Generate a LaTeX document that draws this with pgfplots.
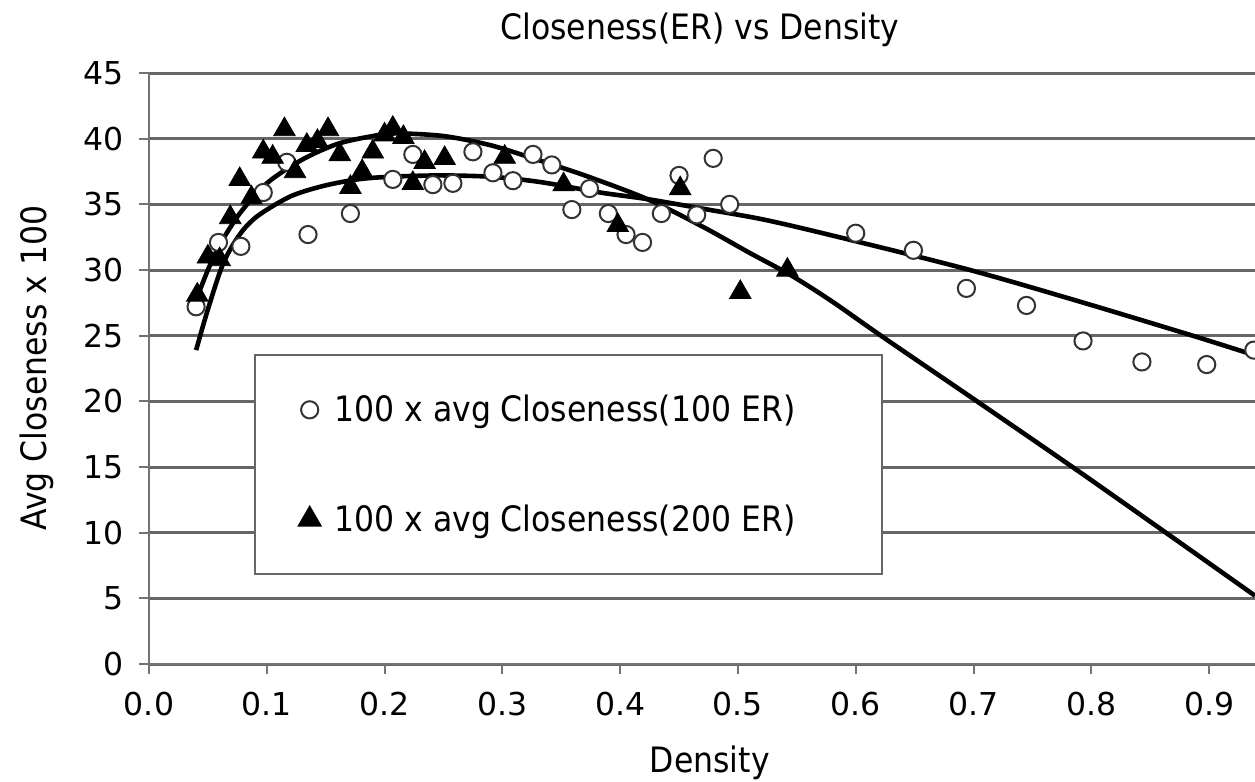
\documentclass[border=0pt]{standalone}
\usepackage{fontspec}
\setmainfont{DejaVu Sans Condensed}
\newfontfamily\tickfont{DejaVu Sans}
\usepackage{pgfplots}
\pgfplotsset{compat=1.18}
\pgfplotsset{dotlegend/.style={legend image code/.code={\draw[##1] plot coordinates {(0pt,0pt)};}}}

\newcommand{\labfont}{\fontsize{17.5}{21}\selectfont}

\begin{document}
\begin{tikzpicture}
\begin{axis}[
  at={(0,0)}, anchor=south west,
  scale only axis, width=553pt, height=295.5pt,
  xmin=0, xmax=0.939, ymin=0, ymax=45,
  axis x line*=bottom, axis y line*=left,
  axis line style={black!55, line width=1.3pt, -},
  xtick={0,0.1,0.2,0.3,0.4,0.5,0.6,0.7,0.8,0.9},
  ytick={0,5,10,15,20,25,30,35,40,45},
  tick style={black!55, line width=1pt},
  tick align=outside, major tick length=5pt,
  ymajorgrids, grid style={black!60, line width=1.5pt},
  /pgf/number format/assume math mode=true,
  ticklabel style={font=\tickfont\fontsize{15.75}{18}\selectfont},
  xticklabel style={yshift=-5.5pt, /pgf/number format/.cd, fixed, fixed zerofill, precision=1, /tikz/.cd},
  yticklabel style={xshift=-4pt},
  title={Closeness(ER) vs Density},
  title style={at={(0.498,1.052)}, anchor=center, font=\labfont},
  xlabel={Density},
  xlabel style={at={(0.507,-0.168)}, anchor=center, font=\labfont},
  ylabel={Avg Closeness x 100},
  ylabel style={at={(-0.1013,0.501)}, anchor=center, font=\labfont},
  legend style={at={(0.0949,0.5245)}, anchor=north west, draw=black!60,
    line width=1pt, fill=white, inner xsep=22pt, inner ysep=18pt,
    row sep=36pt, column sep=5pt, font=\labfont, cells={anchor=west}},
]
\addplot[only marks, mark=*, mark size=4.3pt,
  mark options={fill=white, draw=black!80, line width=1pt}, dotlegend]
coordinates {
(0.040,27.2) (0.059,32.1) (0.078,31.8) (0.097,35.9) (0.117,38.2) (0.135,32.7)
(0.171,34.3) (0.207,36.9) (0.224,38.8) (0.241,36.5) (0.258,36.6) (0.275,39.0)
(0.292,37.4) (0.309,36.8) (0.326,38.8) (0.342,38.0) (0.359,34.6) (0.374,36.2)
(0.390,34.3) (0.405,32.7) (0.419,32.1) (0.435,34.3) (0.450,37.2) (0.465,34.2)
(0.479,38.5) (0.493,35.0) (0.600,32.8) (0.649,31.5) (0.694,28.6) (0.745,27.3)
(0.793,24.6) (0.843,23.0) (0.898,22.8) (0.938,23.9)
};
\addlegendentry{100 x avg Closeness(100 ER)\hspace*{19.5pt}}
\addplot[only marks, mark=triangle*, mark size=6.2pt,
  mark options={fill=black, draw=black}, dotlegend]
coordinates {
(0.041,28.1) (0.050,31.0) (0.060,30.8) (0.069,34.0) (0.077,36.9) (0.087,35.5)
(0.097,39.0) (0.105,38.6) (0.115,40.7) (0.124,37.5) (0.134,39.5) (0.143,39.8)
(0.152,40.7) (0.162,38.8) (0.171,36.3) (0.181,37.5) (0.190,39.0) (0.200,40.3)
(0.207,40.8) (0.216,40.1) (0.224,36.6) (0.234,38.2) (0.251,38.5) (0.302,38.6)
(0.352,36.5) (0.398,33.4) (0.451,36.2) (0.502,28.3) (0.542,30.0)
};
\addlegendentry{100 x avg Closeness(200 ER)\hspace*{19.5pt}}
% trend lines
\addplot[forget plot, black, line width=2.3pt, smooth, no marks] coordinates {
(0.040,23.9) (0.050,27.0) (0.063,30.5) (0.077,32.7) (0.092,34.1) (0.120,35.6)
(0.148,36.4) (0.177,36.9) (0.205,37.1) (0.247,37.2) (0.290,37.1) (0.332,36.7)
(0.383,35.9) (0.423,35.4) (0.468,34.7) (0.524,33.8) (0.595,32.3) (0.697,30.0)
(0.790,27.6) (0.886,25.0) (0.939,23.5)
};
\addplot[forget plot, black, line width=2.3pt, smooth, no marks] coordinates {
(0.040,27.7) (0.050,30.0) (0.060,31.9) (0.077,34.3) (0.100,36.6) (0.130,38.4)
(0.160,39.6) (0.190,40.2) (0.210,40.4) (0.250,40.2) (0.290,39.5) (0.326,38.5)
(0.370,37.2) (0.423,35.4) (0.470,33.3) (0.510,31.3) (0.545,29.6) (0.580,27.6)
(0.623,24.9) (0.703,20.0) (0.800,14.0) (0.939,5.2)
};
\end{axis}
\pgfresetboundingbox
\useasboundingbox (-74.5pt,-59pt) rectangle (553pt,332pt);
\end{tikzpicture}
\end{document}
